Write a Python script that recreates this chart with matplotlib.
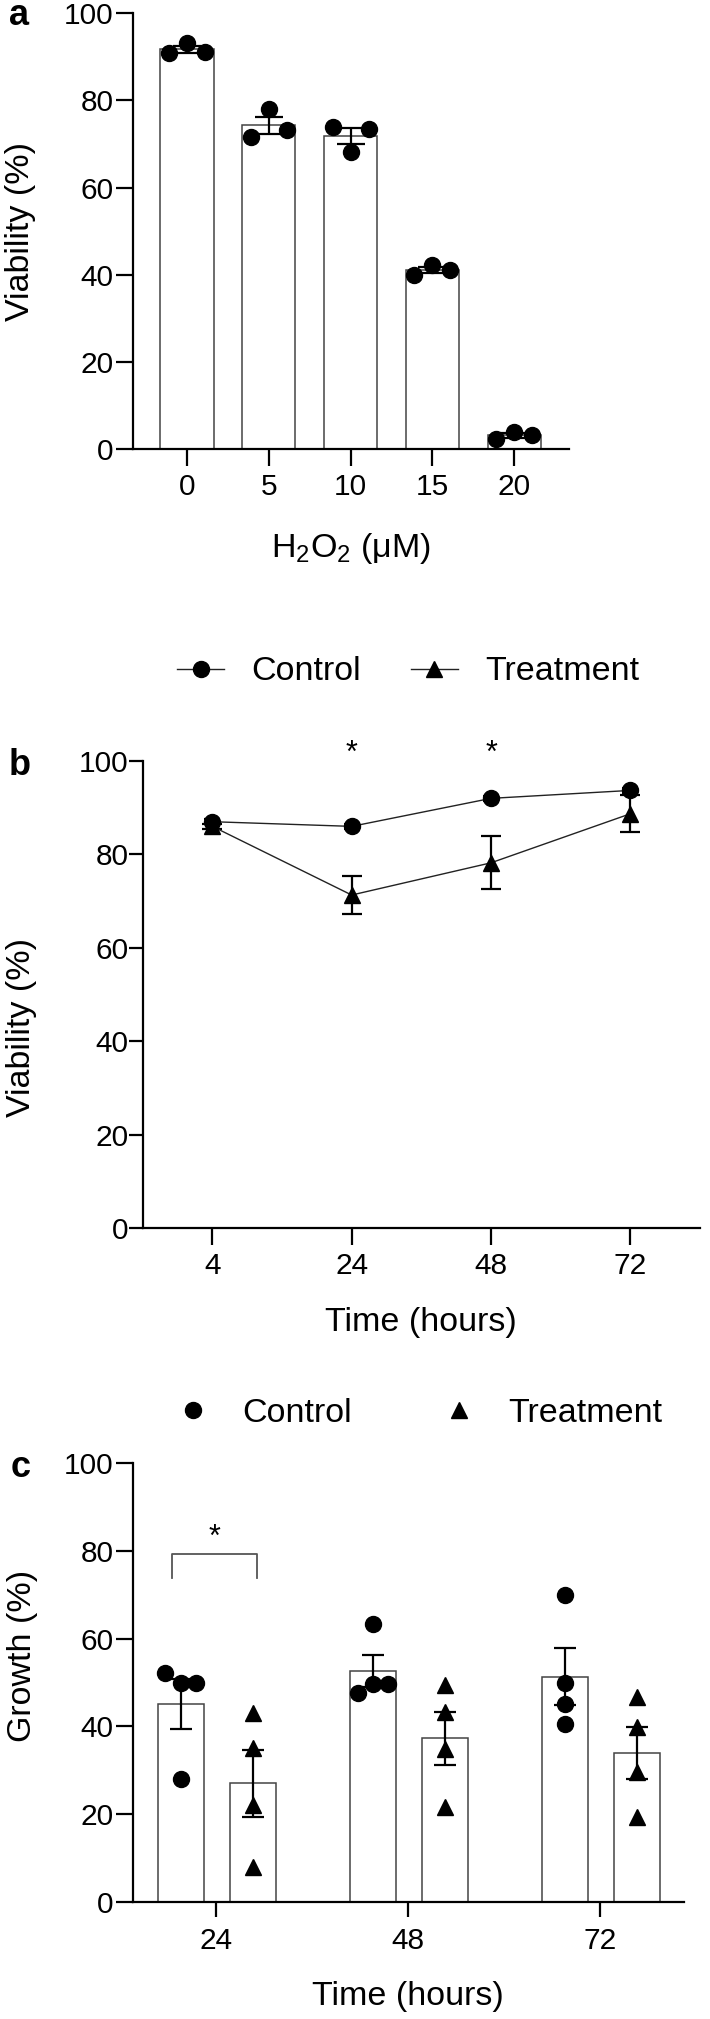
import matplotlib
matplotlib.use('Agg')
import matplotlib.pyplot as plt
from matplotlib.lines import Line2D
import numpy as np

plt.rcParams['font.family'] = ['Liberation Sans', 'DejaVu Sans']
plt.rcParams['mathtext.fontset'] = 'custom'
plt.rcParams['mathtext.rm'] = 'Liberation Sans'
plt.rcParams['mathtext.it'] = 'Liberation Sans:italic'
plt.rcParams['mathtext.bf'] = 'Liberation Sans:bold'
plt.rcParams['mathtext.default'] = 'regular'

# ---- data ----
# panel a: viability vs H2O2, three replicates per dose (left, middle, right dot)
h2o2_labels = ['0', '5', '10', '15', '20']
viab_a = [[90.9, 93.2, 91.1],
          [71.6, 78.1, 73.2],
          [73.9, 68.2, 73.5],
          [39.9, 42.2, 41.1],
          [2.2, 4.0, 3.2]]

# panel b: viability over time, mean +- SEM
time_b = ['4', '24', '48', '72']
ctrl_b = [87.0, 86.0, 92.0, 93.7]
ctrl_b_sem = [0.5, 0.5, 0.6, 0.6]
trt_b = [86.0, 71.3, 78.2, 88.7]
trt_b_sem = [0.6, 4.0, 5.7, 4.0]
signif_b = ['', '*', '*', '']

# panel c: growth, four replicates per group
time_c = ['24', '48', '72']
ctrl_c = [[52.2, 49.9, 49.9, 28.1],
          [63.4, 47.6, 49.7, 49.7],
          [69.9, 49.9, 45.0, 40.6]]
trt_c = [[43.0, 35.0, 22.0, 8.0],
         [49.4, 43.3, 34.9, 21.6],
         [46.7, 39.9, 29.6, 19.4]]

# ---- styling ----
TICK_FS = 21.5
LABEL_FS = 24.5
LEG_FS = 24.5
LETTER_FS = 26
SPINE_W = 1.6
EDGE = '#444444'


def mean_sem(vals):
    v = np.asarray(vals, dtype=float)
    return v.mean(), v.std(ddof=1) / np.sqrt(len(v))


def style_axes(ax, ylen=12, ypad=2, xlen=12, xpad=6):
    for s in ['top', 'right']:
        ax.spines[s].set_visible(False)
    for s in ['left', 'bottom']:
        ax.spines[s].set_linewidth(SPINE_W)
    ax.tick_params(axis='y', length=ylen, width=SPINE_W, pad=ypad, labelsize=TICK_FS)
    ax.tick_params(axis='x', length=xlen, width=SPINE_W, pad=xpad, labelsize=TICK_FS)
    ax.set_ylim(0, 100)
    ax.set_yticks([0, 20, 40, 60, 80, 100])


W, H = 710, 2019
fig = plt.figure(figsize=(W / 100, H / 100), dpi=100)


def axes_px(left, right, top, bottom):
    return fig.add_axes([left / W, 1 - bottom / H, (right - left) / W, (bottom - top) / H])


# ================= panel a =================
axa = axes_px(133, 569, 13.3, 449)
xa = np.arange(len(h2o2_labels))
stats_a = [mean_sem(v) for v in viab_a]
means_a = [m for m, s in stats_a]
sems_a = [s for m, s in stats_a]
axa.bar(xa, means_a, width=0.65, color='white', edgecolor=EDGE, linewidth=1.1, zorder=1)
axa.errorbar(xa, means_a, yerr=sems_a, fmt='none', ecolor='black', elinewidth=1.6,
             capsize=10, capthick=1.6, zorder=2)
jit_a = [-0.22, 0.0, 0.22]
for i, vals in enumerate(viab_a):
    axa.plot(xa[i] + np.array(jit_a), vals, 'o', color='black', ms=11.5, zorder=3, clip_on=False)
axa.set_xlim(-0.66, 4.67)
axa.set_xticks(xa)
axa.set_xticklabels(h2o2_labels)
style_axes(axa, ylen=12, ypad=2, xlen=12.5, xpad=5)
axa.set_ylabel('Viability (%)', fontsize=LABEL_FS)
axa.yaxis.set_label_coords(-0.259, 0.5)
axa.set_xlabel('H$_2$O$_2$ (μM)', fontsize=LABEL_FS)
axa.xaxis.set_label_coords(0.5, -0.228)
axa.xaxis.label.set_va('center')
axa.yaxis.label.set_va('center')
fig.text(9 / W, 1 - 25 / H, 'a', fontsize=LETTER_FS, fontweight='bold', va='baseline')

# ================= panel b =================
axb = axes_px(142.7, 700, 761, 1228)
xb = np.arange(len(time_b))
axb.errorbar(xb, trt_b, yerr=trt_b_sem, fmt='none', ecolor='black', elinewidth=1.6,
             capsize=7, capthick=1.6, zorder=2)
axb.errorbar(xb, ctrl_b, yerr=ctrl_b_sem, fmt='none', ecolor='black', elinewidth=1.6,
             capsize=6, capthick=1.6, zorder=2)
hb_t, = axb.plot(xb, trt_b, '-^', color='#222222', lw=1.0, ms=12, mfc='black', mec='black',
                 zorder=3, clip_on=False)
hb_c, = axb.plot(xb, ctrl_b, '-o', color='#222222', lw=1.0, ms=11.5, mfc='black', mec='black',
                 zorder=4, clip_on=False)
for i, s in enumerate(signif_b):
    if s:
        axb.text(xb[i], 101.5, s, ha='center', va='center', fontsize=22, clip_on=False)
axb.set_xlim(-0.5, 3.5)
axb.set_xticks(xb)
axb.set_xticklabels(time_b)
style_axes(axb, ylen=10, ypad=0, xlen=12, xpad=5)
axb.set_ylabel('Viability (%)', fontsize=LABEL_FS)
axb.yaxis.set_label_coords(-0.218, 0.43)
axb.yaxis.label.set_va('center')
axb.set_xlabel('Time (hours)', fontsize=LABEL_FS)
axb.xaxis.set_label_coords(0.5, -0.203)
axb.xaxis.label.set_va('center')
fig.text(9 / W, 1 - 775 / H, 'b', fontsize=LETTER_FS, fontweight='bold', va='baseline')
fig.legend([hb_c, hb_t], ['Control', 'Treatment'], loc='center',
           bbox_to_anchor=(0.575, 1 - 672 / H), ncol=2, frameon=False, fontsize=LEG_FS,
           handlelength=1.4, handletextpad=0.8, columnspacing=1.45, numpoints=1)

# ================= panel c =================
axc = axes_px(132.7, 684, 1463, 1902)
xc = np.arange(len(time_c))
off_c, off_t, bw = -0.185, 0.19, 0.24
stats_cc = [mean_sem(v) for v in ctrl_c]
stats_ct = [mean_sem(v) for v in trt_c]
mc = [m for m, s in stats_cc]
sc = [s for m, s in stats_cc]
mt = [m for m, s in stats_ct]
st = [s for m, s in stats_ct]
axc.bar(xc + off_c, mc, width=bw, color='white', edgecolor=EDGE, linewidth=1.1, zorder=1)
axc.bar(xc + off_t, mt, width=bw, color='white', edgecolor=EDGE, linewidth=1.1, zorder=1)
axc.errorbar(xc + off_c, mc, yerr=sc, fmt='none', ecolor='black', elinewidth=1.6,
             capsize=8, capthick=1.6, zorder=2)
axc.errorbar(xc + off_t, mt, yerr=st, fmt='none', ecolor='black', elinewidth=1.6,
             capsize=8, capthick=1.6, zorder=2)
jit_c = [[-0.083, 0.0, 0.078, 0.0],
         [0.0, -0.078, 0.0, 0.08],
         [0.0, 0.0, 0.0, 0.0]]
for i in range(len(time_c)):
    axc.plot(xc[i] + off_c + np.array(jit_c[i]), ctrl_c[i], 'o', color='black', ms=11.5, zorder=3)
    axc.plot(np.full(len(trt_c[i]), xc[i] + off_t), trt_c[i], '^', color='black', ms=12, zorder=3)
# significance bracket at 24 h
bx0, bx1, btop, bbot = -0.23, 0.21, 79.2, 73.8
axc.plot([bx0, bx0, bx1, bx1], [bbot, btop, btop, bbot], color='#555555', lw=1.3)
axc.text((bx0 + bx1) / 2, 83.0, '*', ha='center', va='center', fontsize=22)
axc.set_xlim(-0.435, 2.435)
axc.set_xticks(xc)
axc.set_xticklabels(time_c)
style_axes(axc, ylen=12, ypad=2, xlen=11, xpad=7)
axc.set_ylabel('Growth (%)', fontsize=LABEL_FS)
axc.yaxis.set_label_coords(-0.2, 0.56)
axc.yaxis.label.set_va('center')
axc.set_xlabel('Time (hours)', fontsize=LABEL_FS)
axc.xaxis.set_label_coords(0.5, -0.216)
axc.xaxis.label.set_va('center')
fig.text(11 / W, 1 - 1477 / H, 'c', fontsize=LETTER_FS, fontweight='bold', va='baseline')
hc_c = Line2D([], [], ls='none', marker='o', color='black', ms=11.5)
hc_t = Line2D([], [], ls='none', marker='^', color='black', ms=12)
fig.legend([hc_c, hc_t], ['Control', 'Treatment'], loc='center',
           bbox_to_anchor=(0.586, 1 - 1413 / H), ncol=2, frameon=False, fontsize=LEG_FS,
           handlelength=1.4, handletextpad=0.75, columnspacing=2.45, numpoints=1)

fig.savefig('out.png', dpi=100)
